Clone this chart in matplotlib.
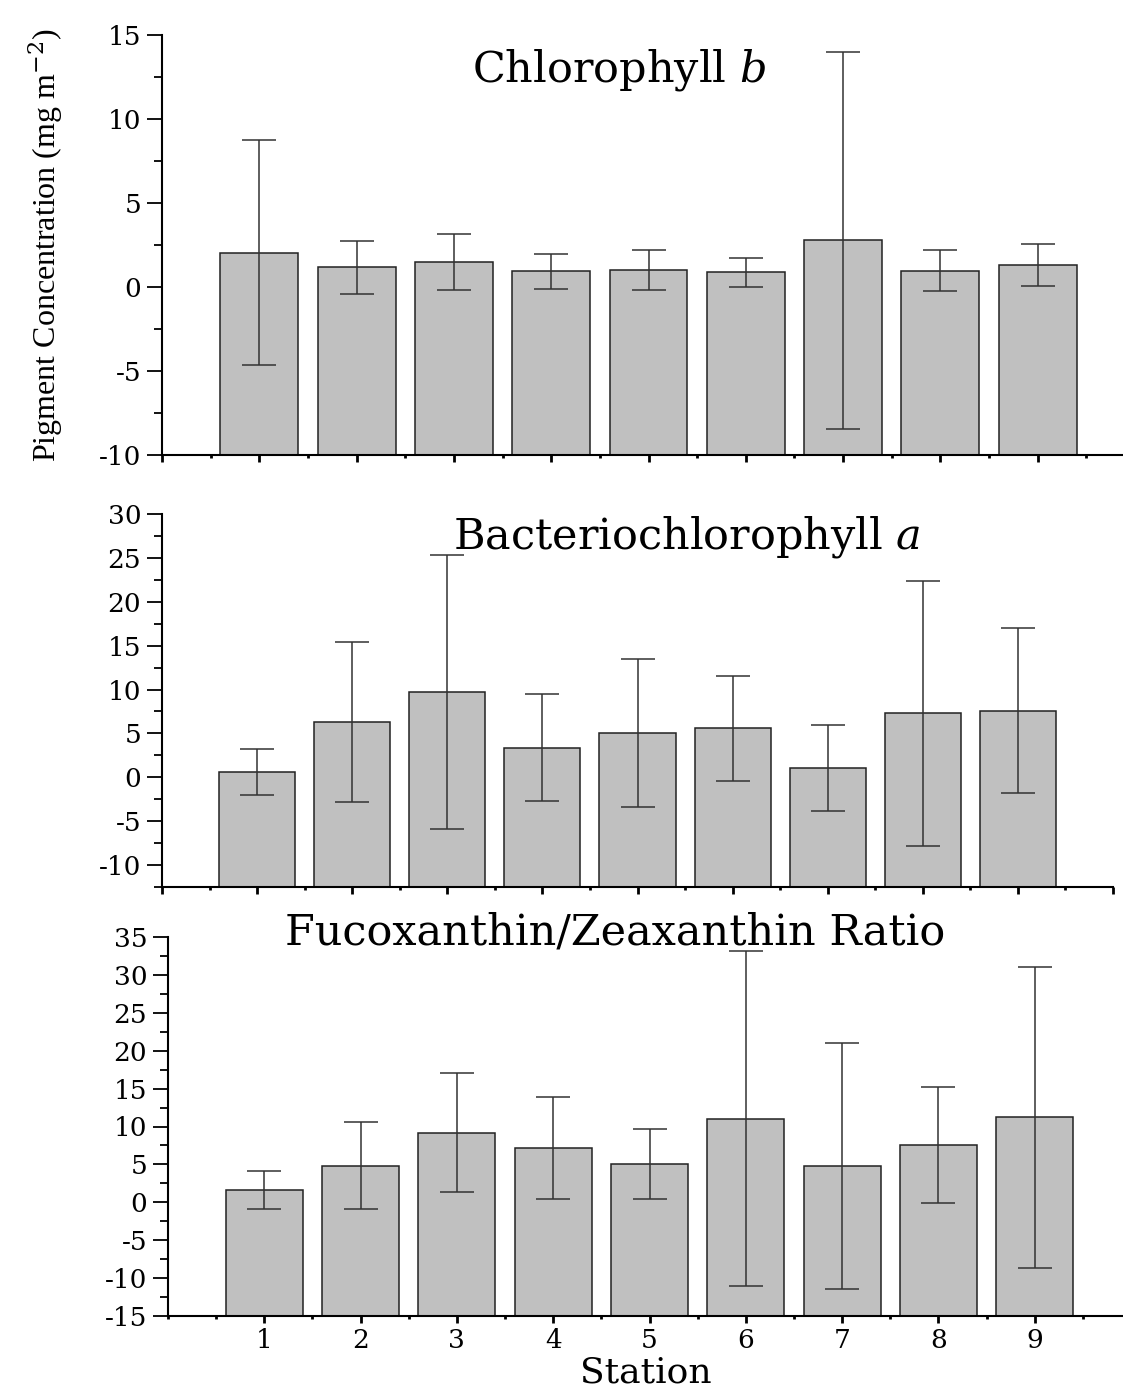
import matplotlib
matplotlib.use('Agg')
import matplotlib.pyplot as plt
from matplotlib.ticker import MultipleLocator

stations = [1, 2, 3, 4, 5, 6, 7, 8, 9]

chl_b = [2.05, 1.17, 1.48, 0.95, 1.03, 0.87, 2.77, 0.96, 1.31]
chl_b_err = [6.7, 1.56, 1.67, 1.04, 1.2, 0.85, 11.2, 1.22, 1.27]

bchl_a = [0.61, 6.3, 9.72, 3.38, 5.05, 5.58, 1.07, 7.29, 7.56]
bchl_a_err = [2.66, 9.17, 15.6, 6.1, 8.45, 5.95, 4.93, 15.1, 9.4]

fuco_zea = [1.64, 4.85, 9.2, 7.2, 5.08, 11.03, 4.81, 7.55, 11.2]
fuco_zea_err = [2.5, 5.7, 7.8, 6.7, 4.65, 22.1, 16.2, 7.7, 19.9]

plt.rcParams['font.family'] = ['DejaVu Serif']
plt.rcParams['mathtext.fontset'] = 'custom'
plt.rcParams['mathtext.rm'] = 'DejaVu Serif'
plt.rcParams['mathtext.it'] = 'DejaVu Serif:italic'
plt.rcParams['axes.unicode_minus'] = False

W, H = 1123, 1389
fig = plt.figure(figsize=(W / 100, H / 100), dpi=100)


def make_axes(left, top, bottom, right):
    return fig.add_axes([left / W, 1 - bottom / H, (right - left) / W, (bottom - top) / H])


ax1 = make_axes(162, 35, 455, 1135)
ax2 = make_axes(162, 514, 887, 1113)
ax3 = make_axes(168, 937, 1316, 1131)

panels = [
    (ax1, chl_b, chl_b_err, (-10, 15), 'Chlorophyll $\\it{b}$', (0.47, 0.917)),
    (ax2, bchl_a, bchl_a_err, (-12.5, 30), 'Bacteriochlorophyll $\\it{a}$', (0.552, 0.938)),
    (ax3, fuco_zea, fuco_zea_err, (-15, 35), 'Fucoxanthin/Zeaxanthin Ratio', (0.464, 1.013)),
]

for ax, vals, errs, ylim, title, tpos in panels:
    lo = ylim[0]
    heights = [v - lo for v in vals]
    ax.bar(stations, heights, bottom=lo, width=0.8, color='#c0c0c0',
           edgecolor='#222222', linewidth=1.1, zorder=2)
    ax.errorbar(stations, vals, yerr=errs, fmt='none', ecolor='#333333',
                elinewidth=1.1, capsize=12, capthick=1.1, zorder=3)
    ax.set_xlim(0, 10)
    ax.set_ylim(*ylim)
    ax.yaxis.set_major_locator(MultipleLocator(5))
    ax.yaxis.set_minor_locator(MultipleLocator(2.5))
    ax.xaxis.set_major_locator(MultipleLocator(1))
    ax.xaxis.set_minor_locator(MultipleLocator(0.5))
    for side in ['top', 'right']:
        ax.spines[side].set_visible(False)
    for side in ['left', 'bottom']:
        ax.spines[side].set_linewidth(1.5)
    ax.tick_params(axis='y', which='major', direction='out', length=11, width=1.3,
                   labelsize=19, pad=4)
    ax.tick_params(axis='y', which='minor', direction='out', length=6, width=1.3)
    ax.tick_params(axis='x', which='major', direction='out', length=5, width=2)
    ax.tick_params(axis='x', which='minor', direction='out', length=2.5, width=2)
    ax.text(tpos[0], tpos[1], title, transform=ax.transAxes, ha='center',
            va='center', fontsize=31)

ax1.set_xticklabels([])
ax2.set_xticklabels([])
ax3.set_xticks(stations)
ax3.set_xticklabels([str(s) for s in stations])
ax3.xaxis.set_minor_locator(MultipleLocator(0.5))
ax3.tick_params(axis='x', which='major', labelsize=19, pad=4)
ax3.set_xlim(0, 10)
ax3.set_xlabel('Station', fontsize=26, labelpad=2)
ax3.xaxis.set_label_coords((646 - 168) / 963, -0.104)

ax1.set_ylabel('Pigment Concentration (mg m$^{-2}$)', family='Liberation Serif',
               fontsize=23, va='center')
ax1.yaxis.set_label_coords((46 - 162) / 973, 0.5)

fig.savefig('out.png', dpi=100)
